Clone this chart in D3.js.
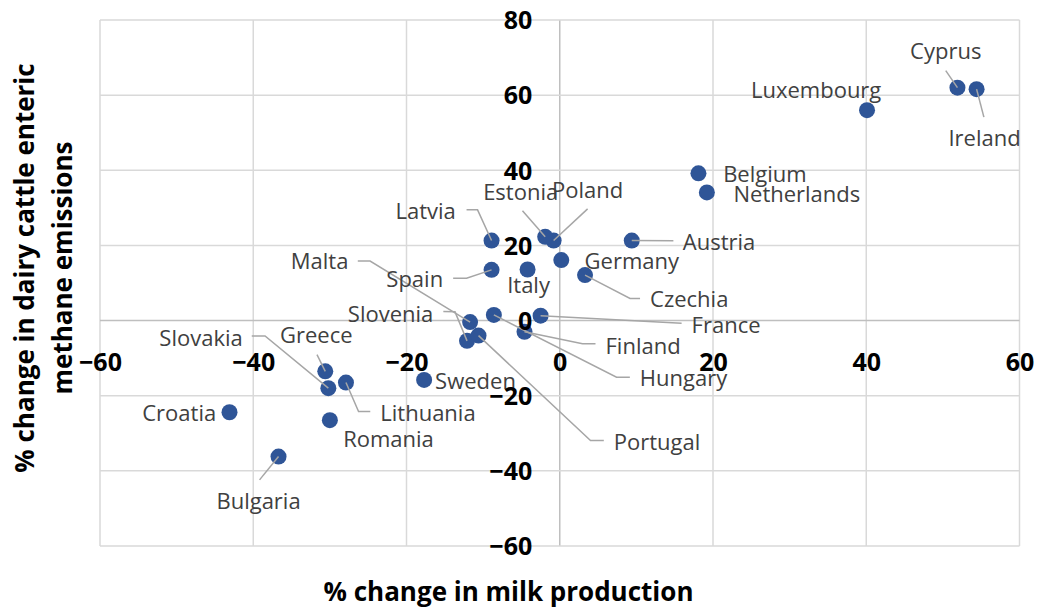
<!DOCTYPE html>
<html>
<head>
<meta charset="utf-8">
<script src="https://cdn.jsdelivr.net/npm/d3@7"></script>
<style>
  html, body { margin: 0; padding: 0; background: #fff; }
  svg { display: block; font-family: "Open Sans", "DejaVu Sans", sans-serif; }
</style>
</head>
<body>
<svg id="chart" width="1038" height="612"></svg>
<script>
// Countries and their % changes (milk production vs. dairy cattle enteric methane)
const countries = ["Cyprus", "Ireland", "Luxembourg", "Belgium", "Netherlands", "Austria",
  "Germany", "Czechia", "Poland", "Estonia", "Latvia", "Spain", "Italy", "Malta",
  "Slovenia", "France", "Finland", "Hungary", "Portugal", "Sweden", "Greece",
  "Slovakia", "Lithuania", "Romania", "Croatia", "Bulgaria"];
const milkChange = [51.9, 54.4, 40.1, 18.1, 19.2, 9.4,
  0.2, 3.3, -0.8, -1.9, -8.9, -8.9, -4.2, -11.7,
  -12.1, -2.5, -4.6, -8.6, -10.6, -17.7, -30.6,
  -30.2, -27.9, -30.0, -43.1, -36.7];
const methaneChange = [62.0, 61.6, 56.0, 39.2, 34.1, 21.3,
  16.1, 12.1, 21.3, 22.3, 21.3, 13.5, 13.6, -0.4,
  -5.4, 1.3, -3.0, 1.5, -4.0, -15.8, -13.5,
  -18.0, -16.5, -26.5, -24.4, -36.2];
const xTicks = [-60, -40, -20, 0, 20, 40, 60];
const yTicks = [-60, -40, -20, 0, 20, 40, 60, 80];
const xTitle = "% change in milk production";
const yTitleLines = ["% change in dairy cattle enteric", "methane emissions"];

// Label placement (pixel offsets from each marker) and leader-line bends
const labelLayout = {
  Cyprus:      { a: "middle", dx: -11.7, dy: -36,   leader: [[-11.7, -17], [0, 0]] },
  Ireland:     { a: "middle", dx: 8,     dy: 49,    leader: [[7.3, 28], [0, 0]] },
  Luxembourg:  { a: "end",    dx: 14.3,  dy: -20 },
  Belgium:     { a: "start",  dx: 24.7,  dy: 0.7 },
  Netherlands: { a: "start",  dx: 26.6,  dy: 1.7 },
  Austria:     { a: "start",  dx: 51,    dy: 1.3,   leader: [[41.6, 0.3], [0, 0]] },
  Germany:     { a: "start",  dx: 23.3,  dy: 1.7 },
  Czechia:     { a: "start",  dx: 65,    dy: 24.3,  leader: [[55, 23.3], [45, 23.3], [0, 0]] },
  Poland:      { a: "start",  dx: -1.6,  dy: -50,   leader: [[34, -31.7], [0, 0]] },
  Estonia:     { a: "end",    dx: 13,    dy: -44,   leader: [[-22.7, -26], [0, 0]] },
  Latvia:      { a: "end",    dx: -35.7, dy: -29,   leader: [[-25, -30.7], [-14, -30.7], [0, 0]] },
  Spain:       { a: "end",    dx: -48.4, dy: 9.3,   leader: [[-38.4, 8.3], [-25, 8.3], [0, 0]] },
  Italy:       { a: "middle", dx: 1,     dy: 15.7 },
  Malta:       { a: "end",    dx: -121.7, dy: -60.3, leader: [[-112.3, -61], [-100, -61], [0, 0]] },
  Slovenia:    { a: "end",    dx: -33.7, dy: -27,   leader: [[-23.7, -29.3], [-12, -29], [0, 0]] },
  France:      { a: "start",  dx: 151,   dy: 9.3,   leader: [[141, 7.6], [0, 0]] },
  Finland:     { a: "start",  dx: 81,    dy: 14,    leader: [[71, 12], [58, 12], [0, 0]] },
  Hungary:     { a: "start",  dx: 146,   dy: 63.3,  leader: [[136, 62.3], [122.7, 62.3], [0, 0]] },
  Portugal:    { a: "start",  dx: 135.3, dy: 106.6, leader: [[125.3, 105], [112, 105], [0, 0]] },
  Sweden:      { a: "start",  dx: 11,    dy: 1.7 },
  Greece:      { a: "middle", dx: -9,    dy: -35.7, leader: [[-8.3, -16.7], [0, 0]] },
  Slovakia:    { a: "end",    dx: -85.6, dy: -50,   leader: [[-76.6, -52.3], [-63.3, -52.3], [0, 0]] },
  Lithuania:   { a: "start",  dx: 34.3,  dy: 30.6,  leader: [[24.3, 29], [12.6, 29], [0, 0]] },
  Romania:     { a: "start",  dx: 13.3,  dy: 19.3 },
  Croatia:     { a: "end",    dx: -13.3, dy: 1 },
  Bulgaria:    { a: "middle", dx: -20,   dy: 45,    leader: [[-19, 23.3], [0, 0]] }
};

const data = countries.map((c, i) => ({ name: c, x: milkChange[i], y: methaneChange[i] }));

const svg = d3.select("#chart");
const plot = { left: 100, right: 1019.5, top: 20, bottom: 546 };

const x = d3.scaleLinear().domain([-60, 60]).range([plot.left, plot.right]);
const y = d3.scaleLinear().domain([-60, 80]).range([plot.bottom, plot.top]);

// Grid
const grid = svg.append("g");
grid.selectAll("line.v").data(xTicks).join("line")
  .attr("x1", d => x(d)).attr("x2", d => x(d))
  .attr("y1", plot.top).attr("y2", plot.bottom)
  .attr("stroke", d => d === 0 ? "#bfbfbf" : "#d9d9d9").attr("stroke-width", 1.5);
grid.selectAll("line.h").data(yTicks).join("line")
  .attr("y1", d => y(d)).attr("y2", d => y(d))
  .attr("x1", plot.left).attr("x2", plot.right)
  .attr("stroke", d => d === 0 ? "#bfbfbf" : "#d9d9d9").attr("stroke-width", 1.5);

// Markers
svg.append("g").selectAll("circle").data(data).join("circle")
  .attr("cx", d => x(d.x)).attr("cy", d => y(d.y)).attr("r", 8)
  .attr("fill", "#2f5597");

// Leader lines
const line = d3.line();
svg.append("g").selectAll("path").data(data.filter(d => labelLayout[d.name].leader)).join("path")
  .attr("d", d => line(labelLayout[d.name].leader.map(p => [x(d.x) + p[0], y(d.y) + p[1]])))
  .attr("fill", "none").attr("stroke", "#a6a6a6").attr("stroke-width", 1.5);

// Data labels
svg.append("g").selectAll("text").data(data).join("text")
  .attr("x", d => x(d.x) + labelLayout[d.name].dx)
  .attr("y", d => y(d.y) + labelLayout[d.name].dy)
  .attr("dy", "0.35em")
  .attr("text-anchor", d => labelLayout[d.name].a)
  .attr("fill", "#404040").attr("font-size", 22)
  .text(d => d.name);

// Axes crossing at zero
const xAxis = svg.append("g").attr("transform", `translate(0,${y(0)})`)
  .call(d3.axisBottom(x).tickValues(xTicks).tickSize(0).tickFormat(d3.format("d")));
xAxis.select(".domain").remove();
xAxis.selectAll("text").attr("y", 42).attr("dy", "0.35em");

const yAxis = svg.append("g").attr("transform", `translate(${x(0)},0)`)
  .call(d3.axisLeft(y).tickValues(yTicks).tickSize(0).tickFormat(d3.format("d")));
yAxis.select(".domain").remove();
yAxis.selectAll("text").attr("x", -27.5).attr("dy", "0.35em");

[xAxis, yAxis].forEach(g => g.selectAll("text")
  .attr("font-family", "Open Sans, sans-serif")
  .attr("font-size", 25).attr("font-weight", "bold").attr("fill", "#000"));

// Axis titles
svg.append("text")
  .attr("x", 508.5).attr("y", 601)
  .attr("text-anchor", "middle")
  .attr("font-size", 26).attr("font-weight", "bold").attr("fill", "#000")
  .text(xTitle);

svg.selectAll("text.ytitle").data(yTitleLines).join("text")
  .attr("class", "ytitle")
  .attr("transform", (d, i) => `translate(${34 + i * 38},268) rotate(-90)`)
  .attr("text-anchor", "middle")
  .attr("font-size", 26).attr("font-weight", "bold").attr("fill", "#000")
  .text(d => d);
</script>
</body>
</html>
